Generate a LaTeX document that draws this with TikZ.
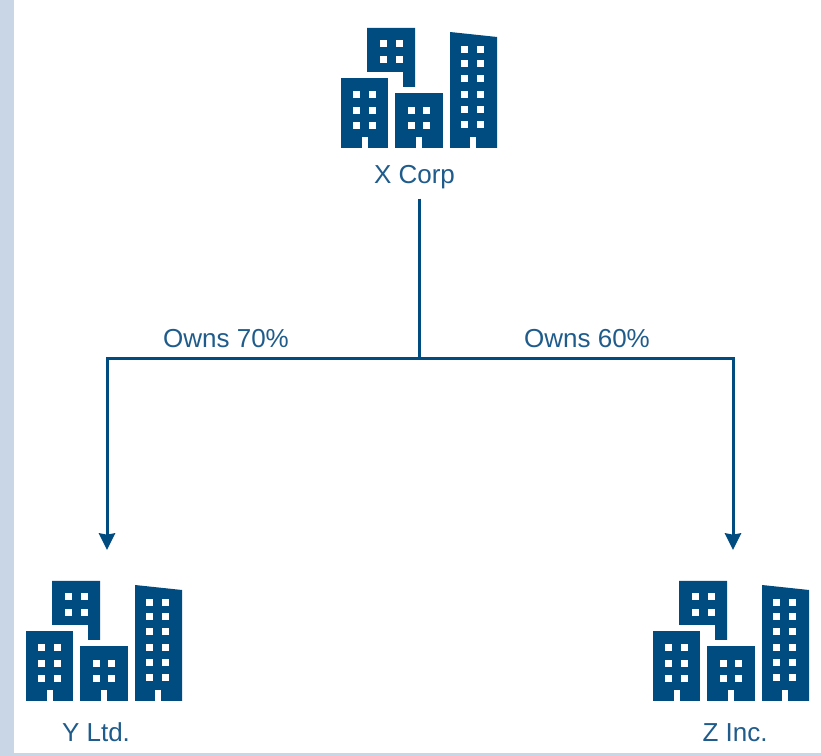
\documentclass[tikz,border=0pt]{standalone}
\usepackage{fontspec}
\setmainfont{Liberation Sans}
\usepackage{xcolor}
\usetikzlibrary{arrows.meta,positioning}
\definecolor{navy}{HTML}{004B7F}
\definecolor{inknavy}{HTML}{1F5C8C}
\definecolor{strip}{HTML}{C8D6E6}
\tikzstyle{link} = [navy,line width=2.25pt,>={Stealth[length=12.5pt,width=12pt,inset=1pt]}]
\tikzstyle{label} = [text=inknavy,font=\fontsize{19.5}{22}\selectfont,text height=14pt,text depth=4pt,inner sep=7pt]
\tikzset{towers/.pic={
    \fill[navy] (26,120) -- (74,120) -- (74,61) -- (62,61) -- (62,76) -- (26,76) -- cycle;
    \fill[navy] (0,0) rectangle (47,70);
    \fill[navy] (54,0) rectangle (102,55);
    \fill[navy] (109,0) -- (156,0) -- (156,111) -- (109,116) -- cycle;
    \foreach \dx in {21,75,129}
    \fill[white] (\dx,0) rectangle ++(6,11);
    \foreach \wx/\wy in {39/101,55/101,39/85,55/85,
    12/50,28/50,12/34,28/34,12/19,28/19,
    67/34,82/34,67/19,82/19,
    120/95,136/95,120/81,136/81,120/66,136/66,120/50,136/50,120/35,136/35,120/20,136/20}
    \fill[white] (\wx,\wy) rectangle ++(7,6.5);
}}

\begin{document}
\begin{tikzpicture}[x=.75pt,y=.75pt]
    \useasboundingbox (0,0) rectangle (821,756);
    \fill[white] (0,0) rectangle (821,756);
    \fill[strip] (0,0) rectangle (14,756);
    \fill[strip] (0,0) rectangle (821,3);
    \pic (xicon) at (341,608) {towers};
    \pic (yicon) at (26,55) {towers};
    \pic (zicon) at (653,55) {towers};
    \node[label] (xcorp) at (414.5,579) {X Corp};
    \node[label] (yltd) at (96,21) {Y Ltd.};
    \node[label] (zinc) at (735,21) {Z Inc.};
    \node[label] (own70) at (226,415) {Owns 70\%};
    \node[label] (own60) at (587,415) {Owns 60\%};
    \coordinate (split) at (419,397.5);
    \coordinate (yin) at (107,206);
    \coordinate (zin) at (733,206);
    \draw[link] (xcorp.south -| split) -- (split);
    \draw[link,->] (split) -| (yin);
    \draw[link,->] (split) -| (zin);
\end{tikzpicture}
\end{document}
